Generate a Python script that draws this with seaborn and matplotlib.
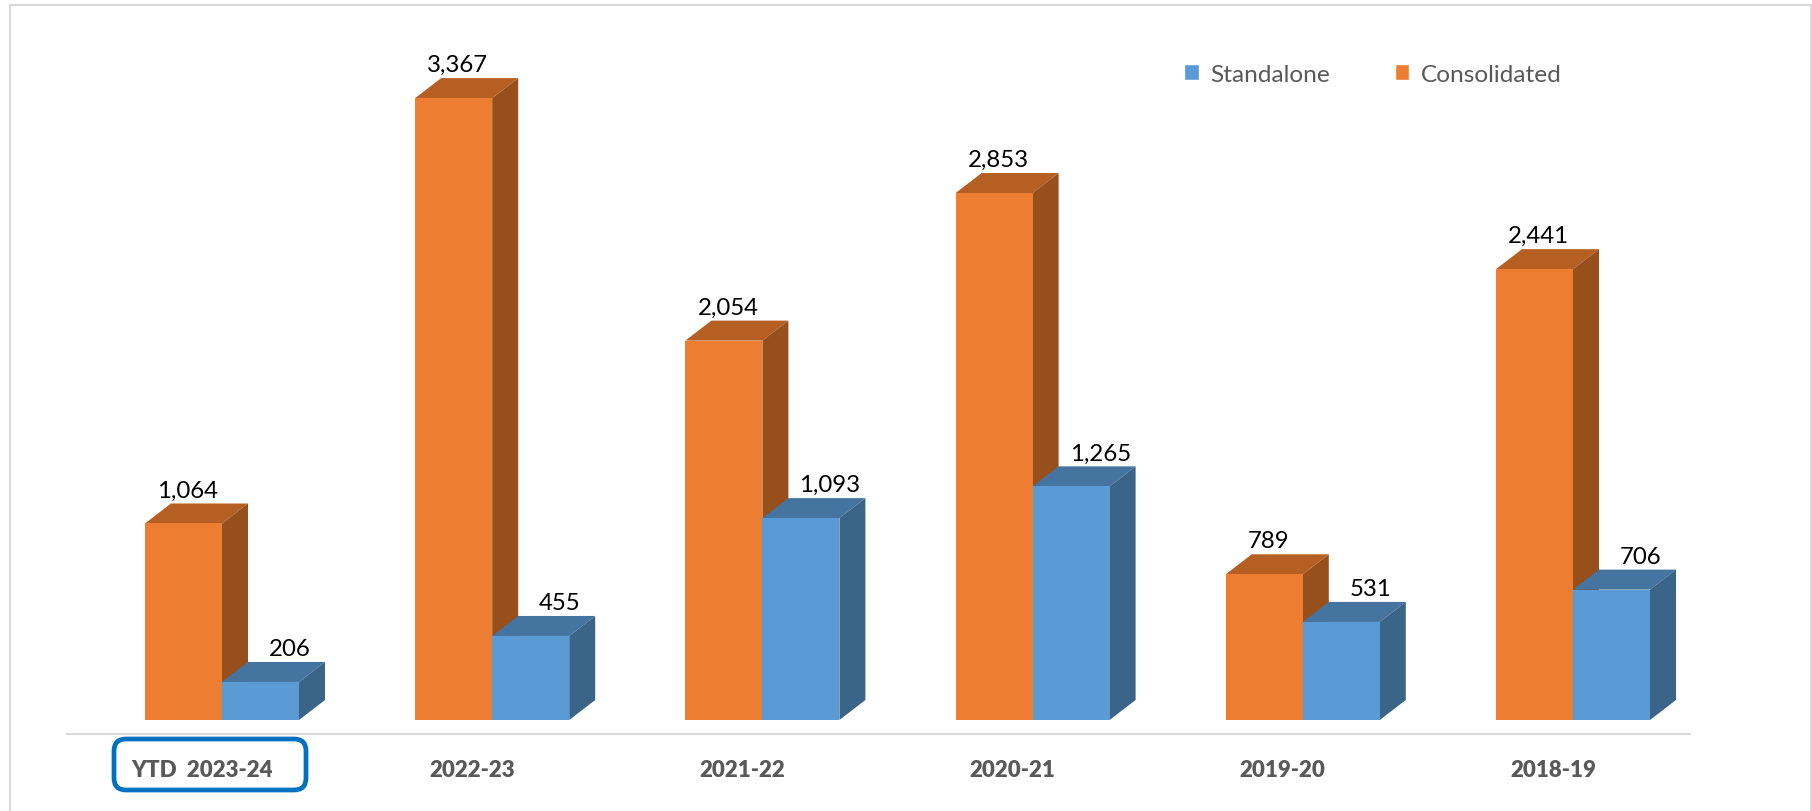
import pandas as pd
import matplotlib
matplotlib.use('Agg')
import matplotlib.pyplot as plt
import seaborn as sns
from matplotlib.lines import Line2D
from matplotlib.patches import FancyBboxPatch, Patch, Polygon
from matplotlib.transforms import IdentityTransform, ScaledTranslation

years = ['YTD  2023-24', '2022-23', '2021-22', '2020-21', '2019-20', '2018-19']
consolidated = [1064, 3367, 2054, 2853, 789, 2441]
standalone = [206, 455, 1093, 1265, 531, 706]

W, H = 1812, 812
ORANGE = ['#ED7D31', '#B55F22', '#97501C']  # front, top, side
BLUE = ['#5B9BD5', '#44749F', '#3B6489']

sns.set_style('white')
plt.rcParams['font.family'] = ['Lato', 'DejaVu Sans']

df = pd.DataFrame({
    'year': years * 2,
    'kind': ['Consolidated'] * 6 + ['Standalone'] * 6,
    'value': consolidated + standalone,
})

fig = plt.figure(figsize=(W / 100, H / 100), dpi=100)
# axes box in pixels: axis line runs 67..1690 at y=735
ax = fig.add_axes([67 / W, 1 - 735 / H, (1690 - 67) / W, (735 - 20) / H])

sns.barplot(data=df, x='year', y='value', hue='kind', order=years,
            hue_order=['Consolidated', 'Standalone'],
            palette={'Consolidated': ORANGE[0], 'Standalone': BLUE[0]},
            saturation=1, width=0.57, gap=0, linewidth=0, legend=False, ax=ax)

px_x = 270.2  # pixels per category
px_y = 0.1847  # pixels per unit
ax.set_xlim((67 - 222) / px_x, (1690 - 222) / px_x)
ax.set_ylim(-14 / px_y, (721 - 20) / px_y)
dx = 26 / px_x
dy = 20 / px_y

# fake 3D depth on each bar
for container, cols, z, label_dx in zip(ax.containers, [ORANGE, BLUE], [2, 2.5], [4, 29]):
    for bar in container:
        x0, top = bar.get_x(), bar.get_height()
        x1 = x0 + bar.get_width()
        bar.set_zorder(3)
        ax.add_patch(Polygon([(x0, top), (x1, top), (x1 + dx, top + dy), (x0 + dx, top + dy)],
                             facecolor=cols[1], edgecolor='none', zorder=z))
        ax.add_patch(Polygon([(x1, 0), (x1 + dx, dy), (x1 + dx, top + dy), (x1, top)],
                             facecolor=cols[2], edgecolor='none', zorder=z))
        ax.annotate(f'{top:,.0f}', (bar.get_x() + bar.get_width() / 2, top),
                    xytext=(label_dx, 27), textcoords='offset pixels',
                    ha='center', va='baseline', fontsize=17.3, color='black', zorder=5)

ax.set_xlabel('')
ax.set_ylabel('')
ax.set_yticks([])
sns.despine(ax=ax, left=True)
ax.spines['bottom'].set_color('#D9D9D9')
ax.spines['bottom'].set_linewidth(1.5)
ax.tick_params(axis='x', length=0, pad=18)
shift = ScaledTranslation(-20 / 100, 0, fig.dpi_scale_trans)
for lab in ax.get_xticklabels():
    lab.set_fontsize(16)
    lab.set_fontweight(800)
    lab.set_color('#595959')
    lab.set_transform(lab.get_transform() + shift)

handles = [Patch(facecolor=BLUE[0], label='Standalone'),
           Patch(facecolor=ORANGE[0], label='Consolidated')]
fig.legend(handles=handles, ncol=2, frameon=False, fontsize=17.6, labelcolor='#595959',
           loc='center left', bbox_to_anchor=(1184 / W, 1 - 75 / H),
           handlelength=0.6, handleheight=0.6, handletextpad=0.47, columnspacing=2.65,
           borderpad=0, borderaxespad=0)

# highlight round the first label
fig.add_artist(FancyBboxPatch((120, H - 785), 180, 39, boxstyle='round,pad=6,rounding_size=12',
                              facecolor='none', edgecolor='#0070C0', linewidth=3.4,
                              transform=IdentityTransform()))

# thin frame of the picture
for xs, ys in [((10, 10), (6, H)), ((10, W - 1), (6, 6)), ((W - 1, W - 1), (6, H))]:
    fig.add_artist(Line2D([x / W for x in xs], [1 - y / H for y in ys],
                          color='#D9D9D9', linewidth=1.5))

fig.savefig('out.png', dpi=100)
